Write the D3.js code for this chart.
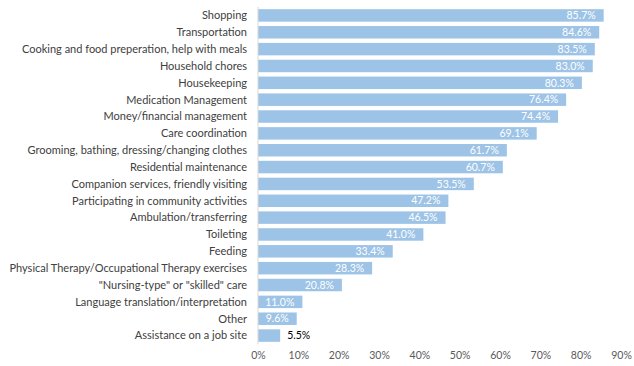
<!DOCTYPE html>
<html><head><meta charset="utf-8">
<script src="https://cdn.jsdelivr.net/npm/d3@7"></script>
<style>body{margin:0;background:#fff}svg{display:block}</style>
</head><body>
<script>
const categories = ["Shopping","Transportation","Cooking and food preperation, help with meals","Household chores","Housekeeping","Medication Management","Money/financial management","Care coordination","Grooming, bathing, dressing/changing clothes","Residential maintenance","Companion services, friendly visiting","Participating in community activities","Ambulation/transferring","Toileting","Feeding","Physical Therapy/Occupational Therapy exercises","\"Nursing-type\" or \"skilled\" care","Language translation/interpretation","Other","Assistance on a job site"];
const values = [85.7,84.6,83.5,83.0,80.3,76.4,74.4,69.1,61.7,60.7,53.5,47.2,46.5,41.0,33.4,28.3,20.8,11.0,9.6,5.5];
const tickValues = [0,10,20,30,40,50,60,70,80,90];

const W = 634, H = 366;
const svg = d3.select("body").append("svg").attr("width", W).attr("height", H);
const font = "Lato, 'Open Sans', sans-serif";

const x = d3.scaleLinear().domain([0, 90]).range([258, 621]);
const y = d3.scaleBand().domain(categories).range([7, 344]).paddingInner(0.26).paddingOuter(0.13);

// bars
svg.append("g").selectAll("rect").data(values).join("rect")
  .attr("x", x(0)).attr("y", (d,i) => y(categories[i]))
  .attr("width", d => x(d) - x(0)).attr("height", y.bandwidth())
  .attr("fill", "#9dc3e6");

// axis line
svg.append("line").attr("x1", x(0)).attr("x2", x(0)).attr("y1", 7).attr("y2", 344)
  .attr("stroke", "#d9d9d9").attr("stroke-width", 1);

// category labels
svg.append("g").selectAll("text").data(categories).join("text")
  .attr("x", 247).attr("y", d => y(d) + y.bandwidth()/2)
  .attr("dy", "0.35em").attr("text-anchor", "end")
  .attr("font-family", font).attr("font-size", 11).attr("fill", "#404040")
  .text(d => d);

// value labels
svg.append("g").selectAll("text").data(values).join("text")
  .attr("x", d => d < 8 ? x(d) + 7 : x(d) - 8)
  .attr("y", (d,i) => y(categories[i]) + y.bandwidth()/2)
  .attr("dy", "0.35em").attr("text-anchor", d => d < 8 ? "start" : "end")
  .attr("font-family", font).attr("font-size", 10.5)
  .attr("fill", d => d < 8 ? "#000" : "#fff")
  .text(d => d.toFixed(1) + "%");

// x axis tick labels
const xAxis = d3.axisBottom(x).tickValues(tickValues).tickSize(0).tickPadding(0).tickFormat(d => d + "%");
const gx = svg.append("g").attr("transform", "translate(0,352)").call(xAxis);
gx.select(".domain").remove();
gx.selectAll("text").attr("font-family", font).attr("font-size", 10.5).attr("fill", "#595959");
</script>
</body></html>
